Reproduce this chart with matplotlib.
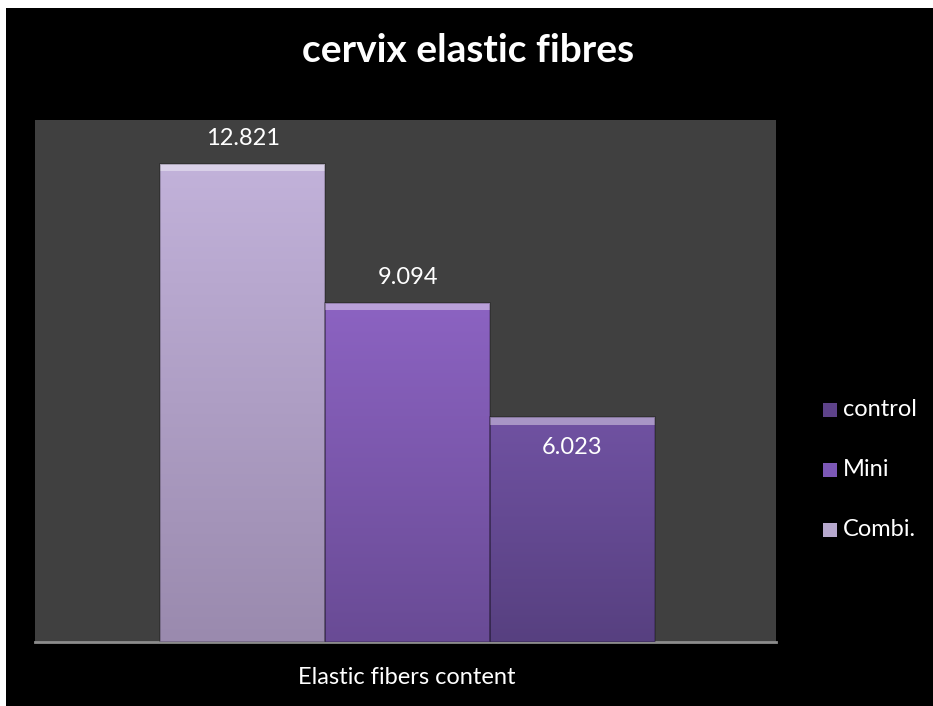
import numpy as np
import matplotlib
matplotlib.use("Agg")
import matplotlib.pyplot as plt
import matplotlib.patches as patches
from matplotlib.colors import LinearSegmentedColormap

plt.rcParams["font.family"] = ["Lato", "DejaVu Sans"]

# data
series = ["control", "Mini", "Combi."]
values = [6.023, 9.094, 12.821]
category = "Elastic fibers content"
title = "cervix elastic fibres"

# colours (top, bottom) per series, legend swatch colour
bar_colors = {
    "control": ("#7052a2", "#574080"),
    "Mini": ("#8c63c2", "#694b95"),
    "Combi.": ("#c2b2da", "#9a8aae"),
}
legend_colors = {"control": "#5d4289", "Mini": "#7c58b6", "Combi.": "#b6a8ce"}

W, H = 933, 706
fig = plt.figure(figsize=(W / 100, H / 100), dpi=100)
fig.patch.set_facecolor("white")
fig.patches.append(patches.Rectangle((6 / W, 0), 1, 1 - 8 / H, transform=fig.transFigure,
                                     facecolor="black", edgecolor="none", zorder=-5))

ax = fig.add_axes([35 / W, (H - 642) / H, (776 - 35) / W, (642 - 120) / H])
ax.set_facecolor("#404040")

# bars are drawn with the biggest first (Combi., Mini, control)
order = [2, 1, 0]
for pos, i in enumerate(order):
    name, val = series[i], values[i]
    top, bot = bar_colors[name]
    rect = patches.Rectangle((pos - 0.5, 0), 1.0, val, facecolor=top, edgecolor="none", zorder=2)
    ax.add_patch(rect)
    cmap = LinearSegmentedColormap.from_list(name, [bot, top])
    grad = np.linspace(0, 1, 256).reshape(-1, 1)
    im = ax.imshow(grad, cmap=cmap, aspect="auto", origin="lower",
                   extent=(pos - 0.5, pos + 0.5, 0, val), zorder=3)
    im.set_clip_path(rect)
    # bevel highlight on top and edge shading
    ax.add_patch(patches.Rectangle((pos - 0.5, val - 0.2), 1.0, 0.2, facecolor="white",
                                   alpha=0.4, edgecolor="none", zorder=4))
    ax.add_patch(patches.Rectangle((pos - 0.5, 0), 1.0, val, facecolor="none",
                                   edgecolor="#000000", alpha=0.25, lw=1.2, zorder=4))
    if pos < 2:
        ax.annotate(f"{val:.3f}", (pos, val), xytext=(0, 11), textcoords="offset points",
                    ha="center", va="bottom", color="white", fontsize=17, zorder=5)
    else:
        ax.annotate(f"{val:.3f}", (pos, val), xytext=(0, -22), textcoords="offset points",
                    ha="center", va="center", color="white", fontsize=17, zorder=5)

ax.set_xlim(-1.258, 3.233)
ax.set_ylim(0, 14)
ax.set_xticks([])
ax.set_yticks([])
for s in ["top", "right", "left"]:
    ax.spines[s].set_visible(False)
ax.spines["bottom"].set_color("#8c8c8c")
ax.spines["bottom"].set_linewidth(2)

fig.text(407 / W, 1 - 678 / H, category, ha="center", va="center", color="white", fontsize=17)
fig.text(468 / W, 1 - 50 / H, title, ha="center", va="center", color="white",
         fontsize=28, fontweight="bold")

# legend
for k, name in enumerate(series):
    y = 410 + 60 * k
    fig.patches.append(patches.Rectangle((823 / W, 1 - (y + 7) / H), 14 / W, 14 / H,
                                         transform=fig.transFigure, facecolor=legend_colors[name],
                                         edgecolor="none"))
    fig.text(843 / W, 1 - y / H, name, ha="left", va="center", color="white", fontsize=17)

fig.savefig("out.png", dpi=100, facecolor=fig.get_facecolor())
